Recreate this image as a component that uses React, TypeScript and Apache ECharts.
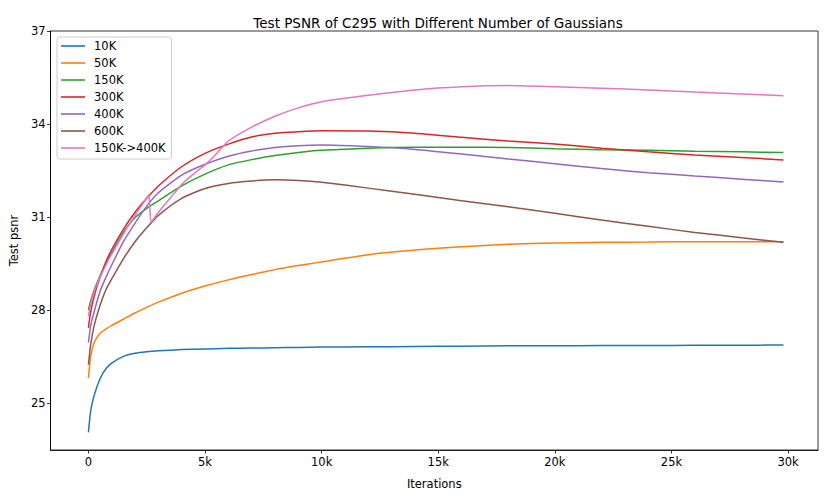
import React, { useEffect, useRef } from "react";
import * as echarts from "echarts";

const iters = [0, 100, 250, 500, 750, 1000, 1500, 2000, 2500, 3000, 4000, 5000, 6000, 7000, 8000, 9000, 10000, 12000, 14000, 16000, 18000, 20000, 22000, 24000, 26000, 28000, 29800];

const s10K = [24.05, 24.75, 25.25, 25.78, 26.1, 26.28, 26.5, 26.6, 26.65, 26.68, 26.72, 26.74, 26.76, 26.77, 26.78, 26.79, 26.8, 26.81, 26.82, 26.83, 26.84, 26.84, 26.85, 26.85, 26.86, 26.86, 26.87];
const s50K = [25.8, 26.5, 26.95, 27.25, 27.38, 27.5, 27.7, 27.9, 28.08, 28.25, 28.54, 28.77, 28.97, 29.14, 29.3, 29.43, 29.55, 29.78, 29.93, 30.04, 30.12, 30.16, 30.18, 30.19, 30.2, 30.2, 30.2];
const s150K = [28.0, 28.3, 28.65, 29.1, 29.5, 29.85, 30.5, 30.98, 31.28, 31.52, 32.0, 32.38, 32.68, 32.85, 32.98, 33.08, 33.15, 33.22, 33.25, 33.25, 33.24, 33.2, 33.17, 33.15, 33.12, 33.1, 33.08];
const s300K = [27.42, 27.95, 28.45, 29.05, 29.55, 29.95, 30.6, 31.15, 31.6, 32.0, 32.62, 33.05, 33.35, 33.58, 33.7, 33.75, 33.78, 33.77, 33.7, 33.57, 33.45, 33.35, 33.22, 33.1, 33.0, 32.92, 32.84];
const s400K = [26.94, 27.5, 27.95, 28.6, 29.05, 29.45, 30.2, 30.8, 31.35, 31.78, 32.35, 32.7, 32.96, 33.13, 33.24, 33.3, 33.32, 33.27, 33.18, 33.03, 32.87, 32.72, 32.56, 32.43, 32.32, 32.22, 32.13];
const s600K = [26.23, 26.9, 27.5, 28.15, 28.65, 29.0, 29.65, 30.2, 30.65, 31.05, 31.6, 31.92, 32.08, 32.16, 32.2, 32.18, 32.12, 31.93, 31.73, 31.52, 31.33, 31.12, 30.9, 30.7, 30.5, 30.33, 30.18];

const itersSwitch = [0, 100, 250, 500, 750, 1000, 1500, 2000, 2400, 2590, 2690, 3000, 3500, 4000, 4500, 5000, 5500, 6000, 7000, 8000, 9000, 10000, 11000, 12000, 14000, 16000, 18000, 20000, 22000, 24000, 26000, 28000, 29800];
const s150Kto400K = [27.8, 28.2, 28.6, 29.05, 29.45, 29.8, 30.45, 31.05, 31.5, 31.72, 30.84, 31.15, 31.6, 32.05, 32.38, 32.68, 33.05, 33.45, 33.9, 34.25, 34.52, 34.72, 34.83, 34.93, 35.1, 35.2, 35.24, 35.2, 35.15, 35.1, 35.03, 34.97, 34.91];

const names = ["10K", "50K", "150K", "300K", "400K", "600K", "150K->400K"];
const colors = ["#1f77b4", "#ff7f0e", "#2ca02c", "#d62728", "#9467bd", "#8c564b", "#e377c2"];
const yTicks = [25, 28, 31, 34, 37];
const xTicks = [0, 5000, 10000, 15000, 20000, 25000, 30000];
const xTickLabels = ["0", "5k", "10k", "15k", "20k", "25k", "30k"];

const FONT = "DejaVu Sans";

export default function App() {
  const ref = useRef<HTMLDivElement>(null);
  useEffect(() => {
    if (!ref.current) return;
    const chart = echarts.init(ref.current, null, { renderer: "svg" });
    const seriesData = [
      iters.map((x, i) => [x, s10K[i]]),
      iters.map((x, i) => [x, s50K[i]]),
      iters.map((x, i) => [x, s150K[i]]),
      iters.map((x, i) => [x, s300K[i]]),
      iters.map((x, i) => [x, s400K[i]]),
      iters.map((x, i) => [x, s600K[i]]),
      itersSwitch.map((x, i) => [x, s150Kto400K[i]]),
    ];
    chart.setOption({
      animation: false,
      backgroundColor: "#fff",
      title: {
        text: "Test PSNR of C295 with Different Number of Gaussians",
        left: 433,
        textAlign: "center",
        top: 11,
        textStyle: { fontFamily: FONT, fontSize: 13.5, fontWeight: "normal", color: "#000" },
      },
      grid: {
        left: 48,
        right: 12,
        top: 31,
        bottom: 48,
        show: true,
        borderColor: "#000",
        borderWidth: 0.8,
        backgroundColor: "transparent",
      },
      legend: {
        orient: "vertical",
        left: 57,
        top: 37,
        data: names,
        icon: "rect",
        itemWidth: 24,
        itemHeight: 1.6,
        itemGap: 5,
        padding: [3, 6, 5, 4],
        backgroundColor: "rgba(255,255,255,0.8)",
        borderColor: "#cccccc",
        borderWidth: 1,
        borderRadius: 3,
        textStyle: { fontFamily: FONT, fontSize: 11.5, lineHeight: 12, color: "#000", padding: [0, 0, 0, 4] },
      },
      xAxis: {
        type: "value",
        min: -1624,
        max: 31282,
        name: "Iterations",
        nameLocation: "middle",
        nameGap: 28,
        nameTextStyle: { fontFamily: FONT, fontSize: 11.5, color: "#000" },
        axisLine: { show: true, onZero: false, lineStyle: { color: "#000", width: 0.8 } },
        axisTick: { show: true, length: 3.5, customValues: xTicks, lineStyle: { color: "#000", width: 0.8 } },
        axisLabel: {
          customValues: xTicks,
          margin: 6,
          fontFamily: FONT,
          fontSize: 11.5,
          color: "#000",
          formatter: (v: number) => xTickLabels[xTicks.indexOf(v)] ?? "",
        },
        splitLine: { show: false },
      },
      yAxis: {
        type: "value",
        min: 23.48,
        max: 37,
        name: "Test psnr",
        nameLocation: "middle",
        nameGap: 30,
        nameTextStyle: { fontFamily: FONT, fontSize: 11.5, color: "#000" },
        axisLine: { show: true, onZero: false, lineStyle: { color: "#000", width: 0.8 } },
        axisTick: { show: true, length: 3.5, customValues: yTicks, lineStyle: { color: "#000", width: 0.8 } },
        axisLabel: {
          customValues: yTicks,
          margin: 5,
          fontFamily: FONT,
          fontSize: 11.5,
          color: "#000",
          formatter: (v: number) => String(v),
        },
        splitLine: { show: false },
      },
      series: names.map((n, i) => ({
        name: n,
        type: "line",
        data: seriesData[i],
        symbol: "none",
        smooth: 0.2,
        color: colors[i],
        itemStyle: { color: colors[i] },
        lineStyle: { color: colors[i], width: 1.5 },
      })),
    });
    return () => chart.dispose();
  }, []);
  return <div ref={ref} style={{ width: 830, height: 498, margin: -8 }} />;
}
